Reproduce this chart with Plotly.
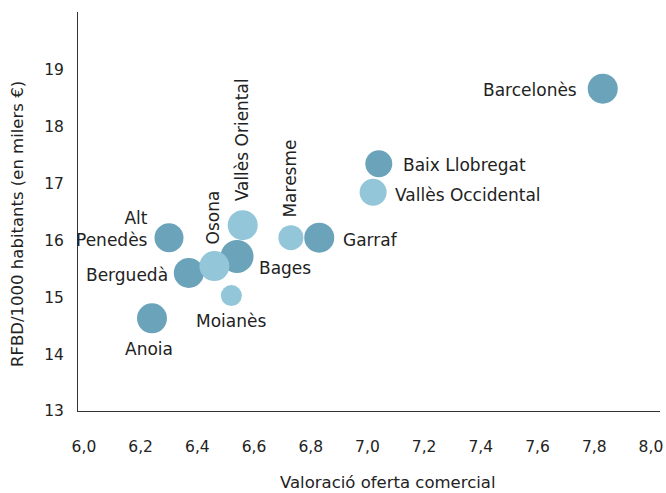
import plotly.graph_objects as go

# Comarques: commercial offer rating vs. disposable income per capita
comarques = ["Barcelonès", "Baix Llobregat", "Vallès Occidental", "Garraf", "Maresme",
             "Vallès Oriental", "Alt Penedès", "Osona", "Bages", "Berguedà",
             "Moianès", "Anoia"]
valoracio = [7.83, 7.04, 7.02, 6.83, 6.73, 6.56, 6.30, 6.46, 6.54, 6.37, 6.52, 6.24]
rfbd = [18.67, 17.35, 16.85, 16.05, 16.05, 16.27, 16.05, 15.55, 15.72, 15.43, 15.03, 14.63]
pes = [30, 27, 27, 30, 25, 30, 29, 30, 33, 30, 21, 30]
grup = ["A", "A", "B", "A", "B", "B", "A", "B", "A", "A", "B", "A"]

x_ticks = [6.0, 6.2, 6.4, 6.6, 6.8, 7.0, 7.2, 7.4, 7.6, 7.8, 8.0]
x_ticktext = ["6,0", "6,2", "6,4", "6,6", "6,8", "7,0", "7,2", "7,4", "7,6", "7,8", "8,0"]
y_ticks = [13, 14, 15, 16, 17, 18, 19]
x_title = "Valoració oferta comercial"
y_title = "RFBD/1000 habitants (en milers €)"

colors = {"A": "#6aa3ba", "B": "#93c6d8"}
FONT = "DejaVu Sans"
FS_LABEL = 17
FS_TITLE = 16.5
FS_TICK = 15.5
TXT = "#222222"

fig = go.Figure()
for g in ["A", "B"]:
    idx = [i for i, v in enumerate(grup) if v == g]
    fig.add_trace(go.Scatter(
        x=[valoracio[i] for i in idx],
        y=[rfbd[i] for i in idx],
        mode="markers",
        marker=dict(size=[pes[i] for i in idx], color=colors[g], opacity=1,
                    line=dict(width=0)),
        hoverinfo="text",
        text=[comarques[i] for i in idx],
        showlegend=False,
    ))

# label placement: (text, xanchor, yanchor, xshift, yshift, angle)
label_style = {
    "Barcelonès": ("Barcelonès", "right", "middle", -24, -1, 0),
    "Baix Llobregat": ("Baix Llobregat", "left", "middle", 22, -1, 0),
    "Vallès Occidental": ("Vallès Occidental", "left", "middle", 20, -3, 0),
    "Garraf": ("Garraf", "left", "middle", 22, -2, 0),
    "Maresme": ("Maresme", "center", "bottom", -1, 18, -90),
    "Vallès Oriental": ("Vallès Oriental", "center", "bottom", -1, 22, -90),
    "Alt Penedès": ("Alt<br>Penedès", "right", "middle", -19, 9, 0),
    "Osona": ("Osona", "center", "bottom", -1, 20, -90),
    "Bages": ("Bages", "left", "middle", 20, -12, 0),
    "Berguedà": ("Berguedà", "right", "middle", -19, -2, 0),
    "Moianès": ("Moianès", "center", "middle", 0, -25, 0),
    "Anoia": ("Anoia", "center", "middle", -3, -31, 0),
}
for name, xv, yv in zip(comarques, valoracio, rfbd):
    t, xa, ya, xs, ys, ang = label_style[name]
    fig.add_annotation(x=xv, y=yv, text=t, showarrow=False, xanchor=xa, yanchor=ya,
                       xshift=xs, yshift=ys, textangle=ang, align="right",
                       font=dict(family=FONT, size=FS_LABEL, color=TXT))

# axis titles
fig.add_annotation(xref="paper", yref="paper", x=0.533, y=-0.180, text=x_title,
                   showarrow=False, xanchor="center", yanchor="middle",
                   font=dict(family=FONT, size=FS_TITLE, color=TXT))
fig.add_annotation(xref="paper", yref="paper", x=-0.103, y=0.469, text=y_title,
                   showarrow=False, xanchor="center", yanchor="middle", textangle=-90,
                   font=dict(family=FONT, size=FS_TITLE, color=TXT))

fig.update_layout(
    width=666, height=493,
    margin=dict(l=78, r=6, t=12, b=82),
    paper_bgcolor="white", plot_bgcolor="white",
    font=dict(family=FONT, size=FS_TICK, color=TXT),
)
fig.update_xaxes(
    range=[5.979, 8.032], tickvals=x_ticks, ticktext=x_ticktext, automargin=False,
    showgrid=False, zeroline=False, showline=True, linecolor="#333333", linewidth=1,
    ticks="", ticklabelstandoff=21, tickfont=dict(family=FONT, size=FS_TICK, color=TXT),
)
fig.update_yaxes(
    range=[13, 20.02], tickvals=y_ticks, automargin=False,
    showgrid=False, zeroline=False, showline=True, linecolor="#333333", linewidth=1,
    ticks="", ticklabelstandoff=10, tickfont=dict(family=FONT, size=FS_TICK, color=TXT),
)

fig.write_html("out.html")
